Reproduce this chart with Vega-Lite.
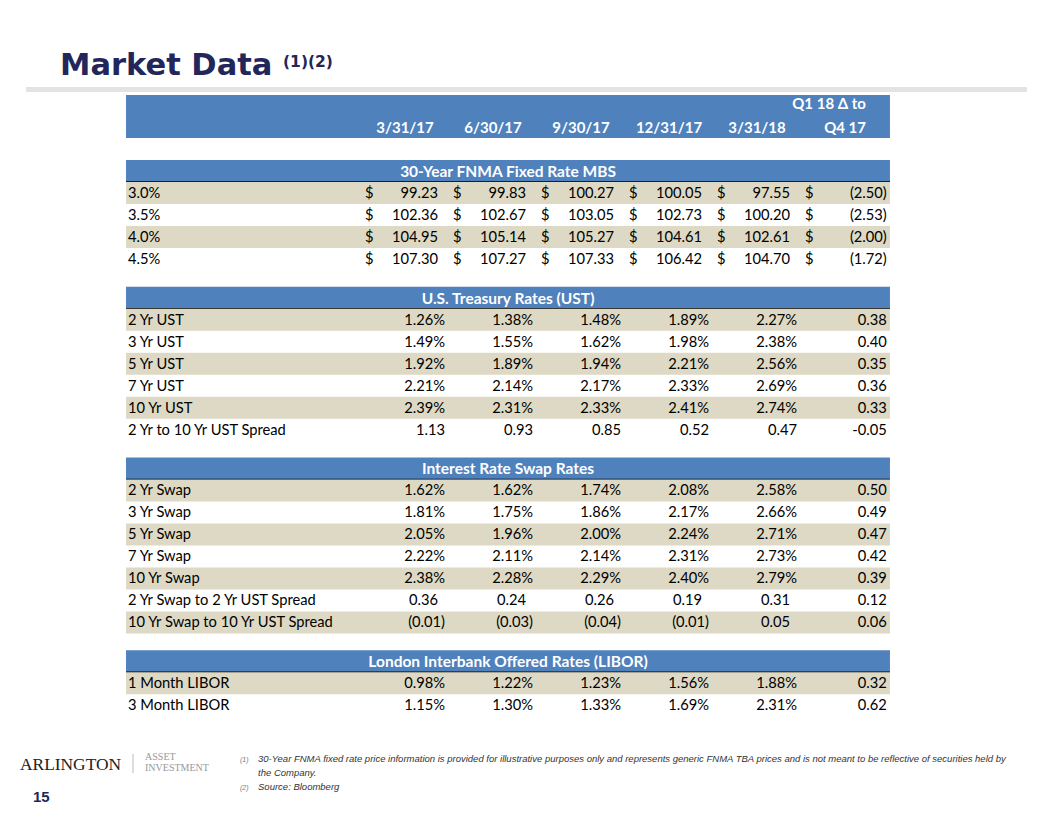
{
  "$schema": "https://vega.github.io/schema/vega-lite/v6.json",
  "width": 1056,
  "height": 816,
  "autosize": {"type": "fit", "contains": "padding"},
  "padding": 0,
  "background": "white",
  "config": {"view": {"stroke": null}},
  "datasets": {
    "rows": [
      {"sec":0,"i":1,"label":"3.0%","m17q1":"99.23","m17q2":"99.83","m17q3":"100.27","m17q4":"100.05","m18q1":"97.55","chg":"(2.50)"},
      {"sec":0,"i":2,"label":"3.5%","m17q1":"102.36","m17q2":"102.67","m17q3":"103.05","m17q4":"102.73","m18q1":"100.20","chg":"(2.53)"},
      {"sec":0,"i":3,"label":"4.0%","m17q1":"104.95","m17q2":"105.14","m17q3":"105.27","m17q4":"104.61","m18q1":"102.61","chg":"(2.00)"},
      {"sec":0,"i":4,"label":"4.5%","m17q1":"107.30","m17q2":"107.27","m17q3":"107.33","m17q4":"106.42","m18q1":"104.70","chg":"(1.72)"},
      {"sec":1,"i":1,"label":"2 Yr UST","m17q1":"1.26%","m17q2":"1.38%","m17q3":"1.48%","m17q4":"1.89%","m18q1":"2.27%","chg":"0.38"},
      {"sec":1,"i":2,"label":"3 Yr UST","m17q1":"1.49%","m17q2":"1.55%","m17q3":"1.62%","m17q4":"1.98%","m18q1":"2.38%","chg":"0.40"},
      {"sec":1,"i":3,"label":"5 Yr UST","m17q1":"1.92%","m17q2":"1.89%","m17q3":"1.94%","m17q4":"2.21%","m18q1":"2.56%","chg":"0.35"},
      {"sec":1,"i":4,"label":"7 Yr UST","m17q1":"2.21%","m17q2":"2.14%","m17q3":"2.17%","m17q4":"2.33%","m18q1":"2.69%","chg":"0.36"},
      {"sec":1,"i":5,"label":"10 Yr UST","m17q1":"2.39%","m17q2":"2.31%","m17q3":"2.33%","m17q4":"2.41%","m18q1":"2.74%","chg":"0.33"},
      {"sec":1,"i":6,"label":"2 Yr to 10 Yr UST Spread","m17q1":"1.13","m17q2":"0.93","m17q3":"0.85","m17q4":"0.52","m18q1":"0.47","chg":"-0.05"},
      {"sec":2,"i":1,"label":"2 Yr Swap","m17q1":"1.62%","m17q2":"1.62%","m17q3":"1.74%","m17q4":"2.08%","m18q1":"2.58%","chg":"0.50"},
      {"sec":2,"i":2,"label":"3 Yr Swap","m17q1":"1.81%","m17q2":"1.75%","m17q3":"1.86%","m17q4":"2.17%","m18q1":"2.66%","chg":"0.49"},
      {"sec":2,"i":3,"label":"5 Yr Swap","m17q1":"2.05%","m17q2":"1.96%","m17q3":"2.00%","m17q4":"2.24%","m18q1":"2.71%","chg":"0.47"},
      {"sec":2,"i":4,"label":"7 Yr Swap","m17q1":"2.22%","m17q2":"2.11%","m17q3":"2.14%","m17q4":"2.31%","m18q1":"2.73%","chg":"0.42"},
      {"sec":2,"i":5,"label":"10 Yr Swap","m17q1":"2.38%","m17q2":"2.28%","m17q3":"2.29%","m17q4":"2.40%","m18q1":"2.79%","chg":"0.39"},
      {"sec":2,"i":6,"label":"2 Yr Swap to 2 Yr UST Spread","m17q1":"0.36","m17q2":"0.24","m17q3":"0.26","m17q4":"0.19","m18q1":"0.31","chg":"0.12"},
      {"sec":2,"i":7,"label":"10 Yr Swap to 10 Yr UST Spread","m17q1":"(0.01)","m17q2":"(0.03)","m17q3":"(0.04)","m17q4":"(0.01)","m18q1":"0.05","chg":"0.06"},
      {"sec":3,"i":1,"label":"1 Month LIBOR","m17q1":"0.98%","m17q2":"1.22%","m17q3":"1.23%","m17q4":"1.56%","m18q1":"1.88%","chg":"0.32"},
      {"sec":3,"i":2,"label":"3 Month LIBOR","m17q1":"1.15%","m17q2":"1.30%","m17q3":"1.33%","m17q4":"1.69%","m18q1":"2.31%","chg":"0.62"}
    ],
    "sections": [
      {"sec":0,"title":"30-Year FNMA Fixed Rate MBS"},
      {"sec":1,"title":"U.S. Treasury Rates (UST)"},
      {"sec":2,"title":"Interest Rate Swap Rates"},
      {"sec":3,"title":"London Interbank Offered Rates (LIBOR)"}
    ],
    "headers": [
      {"key":"m17q1","line":2,"text":"3/31/17"},
      {"key":"m17q2","line":2,"text":"6/30/17"},
      {"key":"m17q3","line":2,"text":"9/30/17"},
      {"key":"m17q4","line":2,"text":"12/31/17"},
      {"key":"m18q1","line":2,"text":"3/31/18"},
      {"key":"chg","line":1,"text":"Q1 18 Δ to"},
      {"key":"chg","line":2,"text":"Q4 17"}
    ]
  },
  "layer": [
    {
      "data": {"values": [{}]},
      "mark": {"type": "rect", "color": "#e3e3e3"},
      "encoding": {
        "x": {"datum": -4.773, "type": "quantitative", "scale": {"domain": [0, 5], "range": [446, 886], "nice": false, "zero": false}, "axis": null},
        "x2": {"datum": 6.602},
        "y": {"datum": -3.318, "type": "quantitative", "scale": {"domain": [0, 1], "range": [160, 182], "nice": false, "zero": false}, "axis": null},
        "y2": {"datum": -3.09}
      }
    },
    {
      "data": {"values": [{}]},
      "mark": {"type": "rect", "color": "#4f81bd"},
      "encoding": {
        "x": {"datum": -3.636, "type": "quantitative"},
        "x2": {"datum": 5.045},
        "y": {"datum": -2.955, "type": "quantitative"},
        "y2": {"datum": -1}
      }
    },
    {
      "data": {"name": "headers"},
      "transform": [
        {"filter": "datum.key != 'chg'"},
        {"calculate": "indexof(['m17q1','m17q2','m17q3','m17q4','m18q1','chg'], datum.key)", "as": "cx"}
      ],
      "mark": {"type": "text", "font": "Lato", "fontSize": 15, "fontWeight": "bold", "color": "white", "align": "center", "baseline": "middle", "dx": -41},
      "encoding": {
        "x": {"field": "cx", "type": "quantitative"},
        "y": {"datum": -1.455, "type": "quantitative"},
        "text": {"field": "text"}
      }
    },
    {
      "data": {"name": "headers"},
      "transform": [
        {"filter": "datum.key == 'chg'"},
        {"calculate": "indexof(['m17q1','m17q2','m17q3','m17q4','m18q1','chg'], datum.key)", "as": "cx"},
        {"calculate": "datum.line == 1 ? -2.545 : -1.455", "as": "yc"}
      ],
      "mark": {"type": "text", "font": "Lato", "fontSize": 15, "fontWeight": "bold", "color": "white", "align": "right", "baseline": "middle", "dx": -20},
      "encoding": {
        "x": {"field": "cx", "type": "quantitative"},
        "y": {"field": "yc", "type": "quantitative"},
        "text": {"field": "text"}
      }
    },
    {
      "data": {"name": "sections"},
      "transform": [
        {"calculate": "[0,5,12,20][datum.sec] + 0.76*datum.sec", "as": "y0"},
        {"calculate": "datum.y0 + 1", "as": "y1"}
      ],
      "mark": {"type": "rect", "color": "#4f81bd"},
      "encoding": {
        "x": {"datum": -3.636, "type": "quantitative"},
        "x2": {"datum": 5.045},
        "y": {"field": "y0", "type": "quantitative"},
        "y2": {"field": "y1"}
      }
    },
    {
      "data": {"name": "sections"},
      "transform": [
        {"calculate": "[0,5,12,20][datum.sec] + 0.76*datum.sec + 1", "as": "y1"}
      ],
      "mark": {"type": "rule", "color": "black", "strokeWidth": 1.5},
      "encoding": {
        "x": {"datum": -3.636, "type": "quantitative"},
        "x2": {"datum": 5.045},
        "y": {"field": "y1", "type": "quantitative"}
      }
    },
    {
      "data": {"name": "sections"},
      "transform": [
        {"calculate": "[0,5,12,20][datum.sec] + 0.76*datum.sec + 0.5", "as": "yc"}
      ],
      "mark": {"type": "text", "font": "Lato", "fontSize": 15.5, "fontWeight": "bold", "color": "white", "align": "center", "baseline": "middle", "dy": 1},
      "encoding": {
        "x": {"datum": 0.705, "type": "quantitative"},
        "y": {"field": "yc", "type": "quantitative"},
        "text": {"field": "title"}
      }
    },
    {
      "data": {"name": "rows"},
      "transform": [
        {"filter": "datum.i % 2 == 1"},
        {"calculate": "[0,5,12,20][datum.sec] + datum.i + 0.76*datum.sec", "as": "y0"},
        {"calculate": "datum.y0 + 1", "as": "y1"}
      ],
      "mark": {"type": "rect", "color": "#ddd9c4"},
      "encoding": {
        "x": {"datum": -3.636, "type": "quantitative"},
        "x2": {"datum": 5.045},
        "y": {"field": "y0", "type": "quantitative"},
        "y2": {"field": "y1"}
      }
    },
    {
      "data": {"name": "rows"},
      "transform": [
        {"calculate": "[0,5,12,20][datum.sec] + datum.i + 0.76*datum.sec + 0.5", "as": "yc"}
      ],
      "mark": {"type": "text", "font": "Lato", "fontSize": 14.7, "color": "black", "align": "left", "baseline": "middle", "dy": 1},
      "encoding": {
        "x": {"datum": -3.614, "type": "quantitative"},
        "y": {"field": "yc", "type": "quantitative"},
        "text": {"field": "label"}
      }
    },
    {
      "data": {"name": "rows"},
      "transform": [
        {"filter": "datum.sec == 0"},
        {"fold": ["m17q1","m17q2","m17q3","m17q4","m18q1","chg"], "as": ["key","value"]},
        {"calculate": "indexof(['m17q1','m17q2','m17q3','m17q4','m18q1','chg'], datum.key)", "as": "ci"},
        {"calculate": "[0,5,12,20][datum.sec] + datum.i + 0.76*datum.sec + 0.5", "as": "yc"}
      ],
      "mark": {"type": "text", "font": "Lato", "fontSize": 14.7, "color": "black", "align": "left", "baseline": "middle", "dx": -81, "dy": 1, "text": "$"},
      "encoding": {
        "x": {"field": "ci", "type": "quantitative"},
        "y": {"field": "yc", "type": "quantitative"}
      }
    },
    {
      "data": {"name": "rows"},
      "transform": [
        {"fold": ["m17q1","m17q2","m17q3","m17q4","m18q1","chg"], "as": ["key","value"]},
        {"calculate": "indexof(['m17q1','m17q2','m17q3','m17q4','m18q1','chg'], datum.key) + (datum.key == 'chg' ? 0.02 : 0)", "as": "cx"},
        {"calculate": "[0,5,12,20][datum.sec] + datum.i + 0.76*datum.sec + 0.5", "as": "yc"},
        {"filter": "(datum.sec == 0 || (datum.sec == 2 && datum.i >= 6)) && datum.key != 'chg' && indexof(datum.value, '(') != 0"}
      ],
      "mark": {"type": "text", "font": "Lato", "fontSize": 14.7, "color": "black", "align": "right", "baseline": "middle", "dx": -8, "dy": 1},
      "encoding": {
        "x": {"field": "cx", "type": "quantitative"},
        "y": {"field": "yc", "type": "quantitative"},
        "text": {"field": "value"}
      }
    },
    {
      "data": {"name": "rows"},
      "transform": [
        {"fold": ["m17q1","m17q2","m17q3","m17q4","m18q1","chg"], "as": ["key","value"]},
        {"calculate": "indexof(['m17q1','m17q2','m17q3','m17q4','m18q1','chg'], datum.key) + (datum.key == 'chg' ? 0.02 : 0)", "as": "cx"},
        {"calculate": "[0,5,12,20][datum.sec] + datum.i + 0.76*datum.sec + 0.5", "as": "yc"},
        {"filter": "!((datum.sec == 0 || (datum.sec == 2 && datum.i >= 6)) && datum.key != 'chg' && indexof(datum.value, '(') != 0)"}
      ],
      "mark": {"type": "text", "font": "Lato", "fontSize": 14.7, "color": "black", "align": "right", "baseline": "middle", "dx": -1, "dy": 1},
      "encoding": {
        "x": {"field": "cx", "type": "quantitative"},
        "y": {"field": "yc", "type": "quantitative"},
        "text": {"field": "value"}
      }
    },
    {
      "data": {"values": [{}]},
      "mark": {"type": "text", "font": "DejaVu Sans", "fontSize": 30.5, "fontWeight": "bold", "color": "#23265a", "align": "left", "baseline": "alphabetic", "text": "Market Data"},
      "encoding": {
        "x": {"datum": -4.386, "type": "quantitative"},
        "y": {"datum": -3.864, "type": "quantitative"}
      }
    },
    {
      "data": {"values": [{}]},
      "mark": {"type": "text", "font": "DejaVu Sans", "fontSize": 15.5, "fontWeight": "bold", "color": "#23265a", "align": "left", "baseline": "alphabetic", "text": "(1)(2)"},
      "encoding": {
        "x": {"datum": -1.852, "type": "quantitative"},
        "y": {"datum": -4.227, "type": "quantitative"}
      }
    },
    {
      "data": {"values": [{}]},
      "mark": {"type": "text", "font": "Liberation Serif", "fontSize": 17.4, "color": "#222222", "align": "left", "baseline": "alphabetic", "text": "ARLINGTON"},
      "encoding": {
        "x": {"datum": -4.841, "type": "quantitative"},
        "y": {"datum": 27.727, "type": "quantitative"}
      }
    },
    {
      "data": {"values": [{}]},
      "mark": {"type": "rule", "color": "#bbbbbb", "strokeWidth": 1},
      "encoding": {
        "x": {"datum": -3.557, "type": "quantitative"},
        "y": {"datum": 27.0, "type": "quantitative"},
        "y2": {"datum": 27.864}
      }
    },
    {
      "data": {"values": [{}]},
      "mark": {"type": "text", "font": "Liberation Serif", "fontSize": 10, "color": "#999999", "align": "left", "baseline": "alphabetic", "text": "ASSET"},
      "encoding": {
        "x": {"datum": -3.42, "type": "quantitative"},
        "y": {"datum": 27.273, "type": "quantitative"}
      }
    },
    {
      "data": {"values": [{}]},
      "mark": {"type": "text", "font": "Liberation Serif", "fontSize": 10, "color": "#999999", "align": "left", "baseline": "alphabetic", "text": "INVESTMENT"},
      "encoding": {
        "x": {"datum": -3.42, "type": "quantitative"},
        "y": {"datum": 27.75, "type": "quantitative"}
      }
    },
    {
      "data": {"values": [{}]},
      "mark": {"type": "text", "font": "Liberation Sans", "fontSize": 15, "fontWeight": "bold", "color": "#23265a", "align": "left", "baseline": "alphabetic", "text": "15"},
      "encoding": {
        "x": {"datum": -4.693, "type": "quantitative"},
        "y": {"datum": 29.16, "type": "quantitative"}
      }
    },
    {
      "data": {"values": [{}]},
      "mark": {"type": "text", "font": "Liberation Sans", "fontSize": 7, "fontStyle": "italic", "color": "#777777", "align": "left", "baseline": "alphabetic", "text": "(1)"},
      "encoding": {
        "x": {"datum": -2.341, "type": "quantitative"},
        "y": {"datum": 27.364, "type": "quantitative"}
      }
    },
    {
      "data": {"values": [{}]},
      "mark": {"type": "text", "font": "Liberation Sans", "fontSize": 9.5, "fontStyle": "italic", "color": "#333333", "align": "left", "baseline": "alphabetic", "lineHeight": 14, "text": ["30-Year FNMA fixed rate price information is provided for illustrative purposes only and represents generic FNMA TBA prices and is not meant to be reflective of securities held by", "the Company."]},
      "encoding": {
        "x": {"datum": -2.136, "type": "quantitative"},
        "y": {"datum": 27.364, "type": "quantitative"}
      }
    },
    {
      "data": {"values": [{}]},
      "mark": {"type": "text", "font": "Liberation Sans", "fontSize": 7, "fontStyle": "italic", "color": "#777777", "align": "left", "baseline": "alphabetic", "text": "(2)"},
      "encoding": {
        "x": {"datum": -2.341, "type": "quantitative"},
        "y": {"datum": 28.636, "type": "quantitative"}
      }
    },
    {
      "data": {"values": [{}]},
      "mark": {"type": "text", "font": "Liberation Sans", "fontSize": 9.5, "fontStyle": "italic", "color": "#333333", "align": "left", "baseline": "alphabetic", "text": "Source: Bloomberg"},
      "encoding": {
        "x": {"datum": -2.136, "type": "quantitative"},
        "y": {"datum": 28.636, "type": "quantitative"}
      }
    }
  ]
}
